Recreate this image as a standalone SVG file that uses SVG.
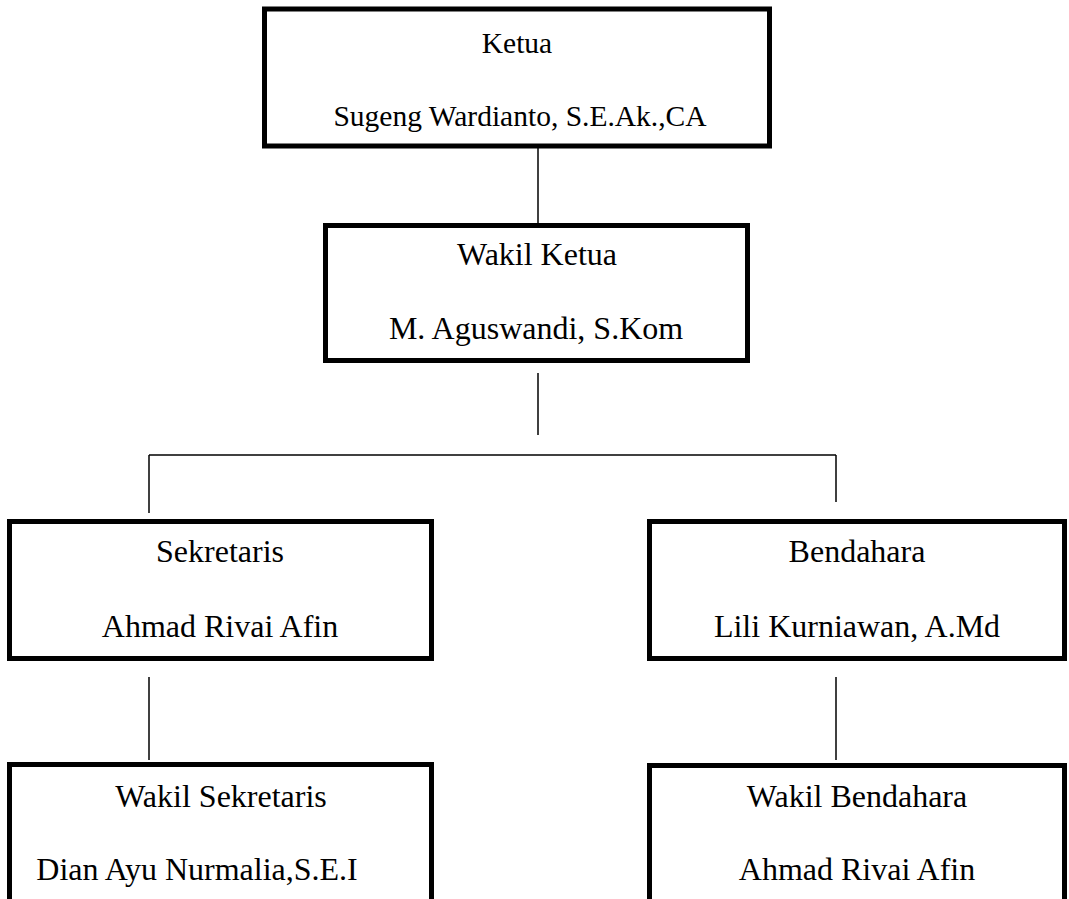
<svg xmlns="http://www.w3.org/2000/svg" width="1069" height="899" viewBox="0 0 1069 899">
  <style>
    .box { fill: #ffffff; stroke: #000000; stroke-width: 5; }
    .lbl { font-family: "Liberation Serif", "Times New Roman", serif; font-size: 32px; fill: #000000; text-anchor: middle; }
    .top { font-size: 29.5px; }
    .wire { stroke: #000000; stroke-width: 1.5; fill: none; }
  </style>
  <rect x="0" y="0" width="1069" height="899" fill="#ffffff"/>

  <!-- connectors -->
  <g id="connectors">
    <line class="wire" x1="538" y1="148" x2="538" y2="223"/>
    <line class="wire" x1="538" y1="373" x2="538" y2="435"/>
    <line class="wire" x1="149" y1="455" x2="836" y2="455"/>
    <line class="wire" x1="149" y1="455" x2="149" y2="513"/>
    <line class="wire" x1="836" y1="455" x2="836" y2="502"/>
    <line class="wire" x1="149" y1="677" x2="149" y2="760"/>
    <line class="wire" x1="836" y1="677" x2="836" y2="760"/>
  </g>

  <g id="ketua">
    <rect class="box" x="264.5" y="9" width="505" height="137"/>
    <text class="lbl top" x="517" y="53">Ketua</text>
    <text class="lbl top" x="520" y="126">Sugeng Wardianto, S.E.Ak.,CA</text>
  </g>

  <g id="wakil-ketua">
    <rect class="box" x="325.5" y="225.5" width="422" height="135"/>
    <text class="lbl" x="537" y="265">Wakil Ketua</text>
    <text class="lbl" x="536" y="339">M. Aguswandi, S.Kom</text>
  </g>

  <g id="sekretaris">
    <rect class="box" x="9.5" y="521.5" width="422" height="137"/>
    <text class="lbl" x="220" y="562">Sekretaris</text>
    <text class="lbl" x="220" y="637">Ahmad Rivai Afin</text>
  </g>

  <g id="bendahara">
    <rect class="box" x="649.5" y="521.5" width="415" height="137"/>
    <text class="lbl" x="857" y="562">Bendahara</text>
    <text class="lbl" x="857" y="637">Lili Kurniawan, A.Md</text>
  </g>

  <g id="wakil-sekretaris">
    <rect class="box" x="9.5" y="764.5" width="422" height="150"/>
    <text class="lbl" x="221" y="807">Wakil Sekretaris</text>
    <text class="lbl" x="197" y="880">Dian Ayu Nurmalia,S.E.I</text>
  </g>

  <g id="wakil-bendahara">
    <rect class="box" x="649.5" y="765.5" width="415" height="150"/>
    <text class="lbl" x="857" y="807">Wakil Bendahara</text>
    <text class="lbl" x="857" y="880">Ahmad Rivai Afin</text>
  </g>
</svg>
